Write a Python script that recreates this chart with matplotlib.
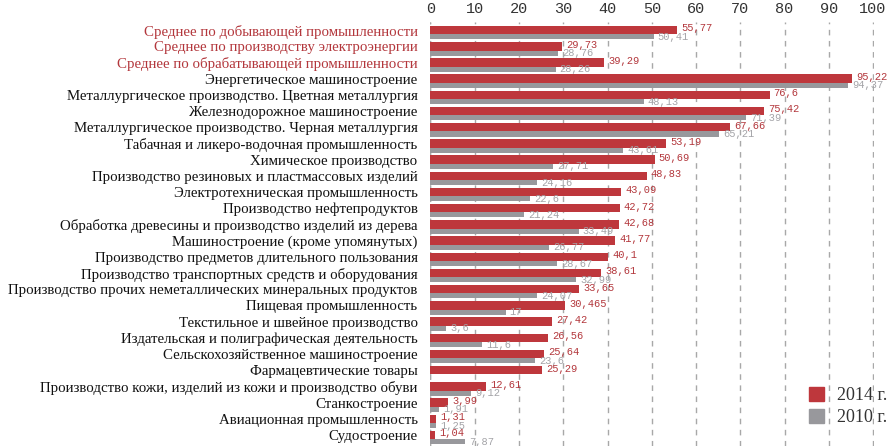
import numpy as np
import matplotlib
matplotlib.use("Agg")
import matplotlib.pyplot as plt
from matplotlib.patches import Patch

#------------------------------------------------------------------
# Data
categories = [
    "Среднее по добывающей промышленности",
    "Среднее по производству электроэнергии",
    "Среднее по обрабатывающей промышленности",
    "Энергетическое машиностроение",
    "Металлургическое производство. Цветная металлургия",
    "Железнодорожное машиностроение",
    "Металлургическое производство. Черная металлургия",
    "Табачная и ликеро-водочная промышленность",
    "Химическое производство",
    "Производство резиновых и пластмассовых изделий",
    "Электротехническая промышленность",
    "Производство нефтепродуктов",
    "Обработка древесины и производство изделий из дерева",
    "Машиностроение (кроме упомянутых)",
    "Производство предметов длительного пользования",
    "Производство транспортных средств и оборудования",
    "Производство прочих неметаллических минеральных продуктов",
    "Пищевая промышленность",
    "Текстильное и швейное производство",
    "Издательская и полиграфическая деятельность",
    "Сельскохозяйственное машиностроение",
    "Фармацевтические товары",
    "Производство кожи, изделий из кожи и производство обуви",
    "Станкостроение",
    "Авиационная промышленность",
    "Судостроение",
]
values_2014 = [55.77, 29.73, 39.29, 95.22, 76.6, 75.42, 67.66, 53.19, 50.69,
               48.83, 43.09, 42.72, 42.68, 41.77, 40.1, 38.61, 33.65, 30.465,
               27.42, 26.56, 25.64, 25.29, 12.61, 3.99, 1.31, 1.04]
values_2010 = [50.41, 28.76, 28.26, 94.37, 48.13, 71.39, 65.21, 43.61, 27.71,
               24.16, 22.60, 21.24, 33.49, 26.77, 28.67, 32.99, 24.07, 17,
               3.6, 11.6, 23.6, None, 9.12, 1.91, 1.25, 7.87]
n_highlight = 3
xticks = [0, 10, 20, 30, 40, 50, 60, 70, 80, 90, 100]
legend_labels = ["2014 г.", "2010 г."]

red = "#be373c"
gray = "#98989c"
red_text = "#b3373c"


def fmt(v):
    return ("%g" % v).replace(".", ",")


#------------------------------------------------------------------
fig = plt.figure(figsize=(8.88, 4.46), dpi=100)
ax = fig.add_axes([430 / 888, 0, 444 / 888, 424 / 446])

n = len(categories)
ypos = np.arange(n)
h_red = 0.52
h_gray = 0.31
off_gray = 0.415

v10 = np.array([np.nan if v is None else v for v in values_2010])
ax.barh(ypos, values_2014, height=h_red, color=red, zorder=3)
ax.barh(ypos + off_gray, np.nan_to_num(v10), height=h_gray, color=gray, zorder=2)

mono = "Liberation Mono"
for i in range(n):
    ax.text(values_2014[i] + 0.9, ypos[i] - 0.1, fmt(values_2014[i]),
            color=red_text, fontsize=7.5, family=mono, va="center", ha="left",
            zorder=5)
    if not np.isnan(v10[i]):
        ax.text(v10[i] + 0.9, ypos[i] + off_gray, fmt(v10[i]),
                color="#a4a4a8", fontsize=7.5, family=mono, va="center",
                ha="left", zorder=5)

ax.set_xlim(-0.1, 100.2)
ax.set_ylim(ypos[-1] + 0.68, -0.5)
ax.set_xticks(xticks)
ax.set_xticklabels([str(t) for t in xticks], family=mono, fontsize=11,
                   color="#333333")
ax.xaxis.tick_top()
ax.tick_params(axis="x", length=0, pad=4)
ax.set_yticks(ypos)
ax.set_yticklabels(categories, family="Liberation Serif", fontsize=10.7)
ax.tick_params(axis="y", length=0, pad=9)
for i, lab in enumerate(ax.get_yticklabels()):
    lab.set_color(red_text if i < n_highlight else "#111111")

for s in ax.spines.values():
    s.set_visible(False)
ax.grid(axis="x", color="#a8a8a8", linestyle=(0, (4, 4)), linewidth=1,
        zorder=0)
ax.axvline(0, color="#a8a8a8", linestyle=(0, (4, 4)), linewidth=1, zorder=0)

handles = [Patch(color=red), Patch(color=gray)]
fig.legend(handles, legend_labels, loc="lower right",
           bbox_to_anchor=(887 / 888, 20 / 446), frameon=False,
           borderpad=0, borderaxespad=0,
           prop={"family": "Liberation Serif", "size": 13},
           handlelength=0.85, handleheight=0.85, handletextpad=0.7,
           labelspacing=0.25, labelcolor="#333333")

fig.savefig("out.png", dpi=100)
